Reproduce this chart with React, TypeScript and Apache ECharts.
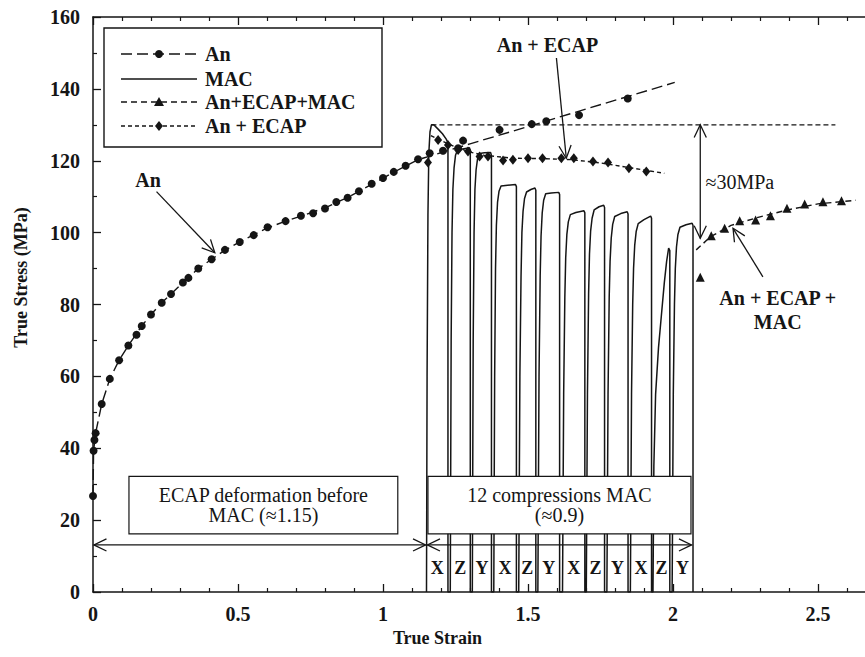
import React, { useEffect, useRef } from 'react';
import * as echarts from 'echarts';

// ---------- data (true strain, true stress MPa) ----------
const anPoints: number[][] = [
  [0, 26.7], [0.002, 39.3], [0.005, 42.3], [0.009, 44.2], [0.03, 52.3], [0.058, 59.3], [0.09, 64.5],
  [0.122, 68.6], [0.15, 71.6], [0.168, 74], [0.2, 77.2], [0.237, 80.5], [0.269, 82.9], [0.31, 86.1],
  [0.329, 87.4], [0.363, 90], [0.409, 92.6], [0.455, 95.2], [0.506, 97.4], [0.554, 99.3], [0.602, 101.5],
  [0.664, 103.2], [0.717, 104.7], [0.759, 105.4], [0.8, 106.7], [0.839, 108.5], [0.878, 109.7],
  [0.917, 111.5], [0.961, 113.6], [1.0, 115.2], [1.037, 116.9], [1.078, 118.6], [1.121, 120.4],
  [1.161, 122.1], [1.207, 122.8], [1.259, 123.5], [1.276, 125.6], [1.402, 128.6], [1.513, 130.2],
  [1.563, 131], [1.676, 132.7], [1.844, 137.3],
];
const anTrend: number[][] = [
  [0, 26.7], [0.002, 39.3], [0.009, 44.2], [0.03, 52.3], [0.058, 59.3], [0.09, 64.5], [0.122, 68.6],
  [0.168, 74], [0.2, 77.2], [0.237, 80.5], [0.269, 82.9], [0.31, 86.1], [0.363, 90], [0.409, 92.6],
  [0.455, 95.1], [0.506, 97.4], [0.554, 99.4], [0.602, 101.3], [0.664, 103.2], [0.717, 104.6],
  [0.8, 106.9], [0.878, 109.8], [0.961, 113.4], [1.037, 116.8], [1.121, 120.3], [1.3, 124.7],
  [1.5, 129.5], [1.7, 134.4], [2.006, 141.8],
];
const macCurve: number[][] = [
  [1.150, 0], [1.152, 60], [1.155, 105], [1.158, 122], [1.162, 128], [1.167, 130], [1.175, 130], [1.19, 128.8], [1.205, 127.5], [1.218, 126], [1.224, 125], [1.224, 0],
  [1.232, 0], [1.235, 70], [1.238, 100], [1.241, 112], [1.245, 118], [1.250, 121.5], [1.257, 123], [1.275, 123.3], [1.298, 123.6], [1.301, 123], [1.301, 0],
  [1.308, 0], [1.311, 70], [1.314, 100], [1.317, 112], [1.321, 117.5], [1.326, 120.5], [1.333, 122], [1.35, 122.2], [1.371, 122.3], [1.374, 121.5], [1.374, 0],
  [1.382, 0], [1.385, 60], [1.388, 90], [1.391, 102], [1.395, 108.5], [1.400, 111.5], [1.407, 113], [1.43, 113.2], [1.457, 113.4], [1.46, 112.8], [1.46, 0],
  [1.468, 0], [1.472, 60], [1.476, 88], [1.479, 100], [1.483, 106], [1.488, 109.5], [1.495, 111.3], [1.51, 112], [1.524, 112.4], [1.527, 111.8], [1.527, 0],
  [1.534, 0], [1.538, 60], [1.542, 88], [1.545, 99], [1.549, 105.5], [1.554, 109], [1.561, 110.8], [1.58, 111], [1.606, 111.2], [1.609, 110.6], [1.609, 0],
  [1.619, 0], [1.623, 55], [1.627, 82], [1.630, 93], [1.634, 99.5], [1.639, 103], [1.646, 105], [1.665, 105.6], [1.693, 106.1], [1.696, 105.5], [1.696, 0],
  [1.701, 0], [1.705, 55], [1.709, 83], [1.712, 94], [1.716, 100.5], [1.721, 104], [1.728, 106.3], [1.745, 107.2], [1.761, 107.6], [1.764, 107], [1.764, 0],
  [1.772, 0], [1.776, 55], [1.780, 82], [1.783, 92], [1.787, 98.5], [1.792, 102.3], [1.799, 104.5], [1.82, 105.3], [1.842, 105.8], [1.845, 105.2], [1.845, 0],
  [1.853, 0], [1.857, 55], [1.861, 80], [1.864, 90], [1.868, 96.5], [1.873, 100.3], [1.880, 102.5], [1.9, 103.6], [1.923, 104.6], [1.926, 104], [1.926, 0],
  [1.931, 0], [1.934, 35], [1.940, 55], [1.950, 68], [1.960, 77], [1.970, 86], [1.978, 92], [1.985, 95.7], [1.989, 95], [1.989, 0],
  [1.997, 0], [2.001, 55], [2.005, 80], [2.008, 90], [2.012, 96], [2.017, 99.5], [2.024, 101.5], [2.045, 102.2], [2.066, 102.6], [2.069, 102], [2.069, 0],
];
const ecapPoints: number[][] = [
  [1.155, 119.5], [1.19, 125.8], [1.224, 124.4], [1.259, 123], [1.293, 122.6], [1.333, 121.2], [1.362, 121.2],
  [1.414, 120.1], [1.448, 120.3], [1.5, 120.7], [1.55, 120.7], [1.615, 120.7], [1.658, 120.7], [1.724, 119.8],
  [1.776, 119.5], [1.848, 117.9], [1.908, 117],
];
const ecapTrend: number[][] = [
  [1.165, 127], [1.2, 125.6], [1.25, 123.8], [1.3, 122.4], [1.35, 121.5], [1.45, 120.7], [1.55, 120.6],
  [1.65, 120.3], [1.75, 119.4], [1.85, 118.1], [1.97, 116.5],
];
const amacPoints: number[][] = [
  [2.094, 87.6], [2.132, 99.1], [2.178, 101.2], [2.23, 103.3], [2.285, 103.5], [2.336, 104.7],
  [2.393, 106.8], [2.454, 108], [2.517, 108.6], [2.581, 108.9],
];
const amacTrend: number[][] = [
  [2.08, 95.2], [2.13, 98.9], [2.2, 102], [2.3, 104.4], [2.4, 106.4], [2.5, 108], [2.63, 109],
];
// compression cells (strain ranges) and their axes
const macCells: number[][] = [
  [1.150, 1.224], [1.232, 1.301], [1.308, 1.374], [1.382, 1.46], [1.468, 1.527], [1.534, 1.609],
  [1.619, 1.696], [1.701, 1.764], [1.772, 1.845], [1.853, 1.926], [1.931, 1.989], [1.997, 2.069],
];
const macAxes = ['X', 'Z', 'Y', 'X', 'Z', 'Y', 'X', 'Z', 'Y', 'X', 'Z', 'Y'];
const legendNames = ['An', 'MAC', 'An+ECAP+MAC', 'An + ECAP'];

const FONT = '"Liberation Serif", "Times New Roman", serif';
const INK = '#151515';

export default function App() {
  const ref = useRef<HTMLDivElement>(null);
  useEffect(() => {
    const chart = echarts.init(ref.current!, null, { renderer: 'svg' });
    const labelStyle = { color: INK, fontFamily: FONT, fontWeight: 'bold' as const, fontSize: 20 };
    const xBase = {
      type: 'value' as const, min: 0, max: 2.7, interval: 0.5,
      axisLine: { onZero: false, lineStyle: { color: INK, width: 1.5 } },
      axisTick: { inside: true, length: 8, lineStyle: { color: INK, width: 1.3 } },
      minorTick: { show: true, splitNumber: 5, length: 4, lineStyle: { color: INK, width: 1.2 } },
      splitLine: { show: false },
    };
    const yBase = {
      type: 'value' as const, min: 0, max: 160, interval: 20,
      axisLine: { onZero: false, lineStyle: { color: INK, width: 1.5 } },
      axisTick: { inside: true, length: 8, lineStyle: { color: INK, width: 1.3 } },
      minorTick: { show: true, splitNumber: 2, length: 4, lineStyle: { color: INK, width: 1.2 } },
      splitLine: { show: false },
    };
    const pt = { color: INK, opacity: 1 };
    chart.setOption({
      animation: false,
      backgroundColor: '#ffffff',
      textStyle: { fontFamily: FONT },
      grid: { left: 93, top: 17, right: 0, bottom: 65, containLabel: false },
      xAxis: [
        {
          ...xBase, position: 'bottom',
          axisLabel: { ...labelStyle, margin: 12, showMaxLabel: false },
          name: 'True Strain', nameLocation: 'middle', nameGap: 36,
          nameTextStyle: { ...labelStyle, fontSize: 18, padding: [0, 94, 0, 0] },
        },
        { ...xBase, position: 'top', axisLabel: { show: false } },
      ],
      yAxis: [
        {
          ...yBase, position: 'left',
          axisLabel: { ...labelStyle, margin: 13 },
          name: 'True Stress (MPa)', nameLocation: 'middle', nameGap: 63,
          nameTextStyle: { ...labelStyle, fontSize: 18, padding: [0, 0, 0, 54] },
        },
        { ...yBase, position: 'right', axisLabel: { show: false } },
      ],
      series: [
        { name: 'An', type: 'line', data: anTrend, symbol: 'none', lineStyle: { color: INK, width: 1.4, type: [11, 5] }, z: 3 },
        { name: 'An points', type: 'scatter', data: anPoints, symbol: 'circle', symbolSize: 8, itemStyle: pt, z: 4 },
        { name: 'MAC', type: 'line', data: macCurve, symbol: 'none', lineStyle: { color: INK, width: 1.5 }, z: 2 },
        { name: 'An + ECAP', type: 'line', data: ecapTrend, symbol: 'none', lineStyle: { color: INK, width: 1.4, type: [4, 3] }, z: 3 },
        { name: 'An + ECAP points', type: 'scatter', data: ecapPoints, symbol: 'diamond', symbolSize: [8, 10], itemStyle: pt, z: 4 },
        { name: 'An+ECAP+MAC', type: 'line', data: amacTrend, symbol: 'none', lineStyle: { color: INK, width: 1.4, type: [6, 4] }, z: 3 },
        { name: 'An+ECAP+MAC points', type: 'scatter', data: amacPoints, symbol: 'triangle', symbolSize: 9, itemStyle: pt, z: 4 },
      ],
    });

    const P = (x: number, y: number) => chart.convertToPixel({ seriesIndex: 0 }, [x, y]) as number[];
    const stroke = { stroke: INK, lineWidth: 1.3, fill: null as any };
    const head = (tip: number[], from: number[], len = 14, ang = 0.45) => {
      const dx = from[0] - tip[0], dy = from[1] - tip[1];
      const d = Math.hypot(dx, dy);
      const ux = dx / d, uy = dy / d;
      const r = (a: number) => [tip[0] + len * (ux * Math.cos(a) - uy * Math.sin(a)), tip[1] + len * (ux * Math.sin(a) + uy * Math.cos(a))];
      return { type: 'polyline', shape: { points: [r(ang), tip, r(-ang)] }, style: { ...stroke }, silent: true, z: 50 };
    };
    const arrow = (a: number[], b: number[], both = false, len = 14) => {
      const els: any[] = [{ type: 'line', shape: { x1: a[0], y1: a[1], x2: b[0], y2: b[1] }, style: { ...stroke }, silent: true, z: 50 }];
      els.push(head(b, a, len));
      if (both) els.push(head(a, b, len));
      return els;
    };
    const text = (t: string, p: number[], opts: any = {}) => ({
      type: 'text', x: p[0], y: p[1], silent: true, z: 60,
      style: {
        text: t, fill: INK, font: `${opts.bold === false ? 'normal' : 'bold'} ${opts.size || 20}px ${FONT}`,
        align: opts.align || 'center', verticalAlign: 'middle', lineHeight: opts.lineHeight,
      },
    });
    const g: any[] = [];

    // legend
    g.push({ type: 'rect', shape: { x: 104, y: 28, width: 278, height: 119 }, style: { fill: '#fff', stroke: INK, lineWidth: 1.4 }, z: 70 });
    const rows = [54, 79, 102, 126];
    const dashes = [[11, 5], null, [6, 4], [4, 3]];
    rows.forEach((ry, i) => {
      g.push({ type: 'line', shape: { x1: 121, y1: ry, x2: 197, y2: ry }, style: { stroke: INK, lineWidth: 1.5, lineDash: dashes[i] || undefined }, z: 71 });
      g.push({ ...text(legendNames[i], [205, ry], { align: 'left' }), z: 72 });
    });
    g.push({ type: 'circle', shape: { cx: 159, cy: rows[0], r: 4 }, style: { fill: INK }, z: 72 });
    g.push({ type: 'polygon', shape: { points: [[159, rows[2] - 5], [164, rows[2] + 4], [154, rows[2] + 4]] }, style: { fill: INK }, z: 72 });
    g.push({ type: 'polygon', shape: { points: [[159, rows[3] - 5], [163, rows[3]], [159, rows[3] + 5], [155, rows[3]]] }, style: { fill: INK }, z: 72 });

    // An annotation
    g.push(text('An', P(0.19, 114.6)));
    g.push(...arrow(P(0.219, 111.4), P(0.42, 94.4)));
    // An + ECAP annotation
    g.push(text('An + ECAP', P(1.567, 152.3)));
    g.push(...arrow(P(1.598, 148.6), P(1.632, 120.7)));
    // 30 MPa gap
    const h1 = P(1.167, 130), h2 = P(2.56, 130);
    g.push({ type: 'line', shape: { x1: h1[0], y1: h1[1], x2: h2[0], y2: h2[1] }, style: { stroke: INK, lineWidth: 1.2, lineDash: [5, 3] }, z: 40 });
    g.push(...arrow(P(2.094, 130), P(2.094, 98.4), true));
    g.push(text('\u224830MPa', P(2.112, 114.1), { bold: false, align: 'left' }));
    // An + ECAP + MAC annotation
    g.push(text('An + ECAP +\nMAC', P(2.361, 78.35), { lineHeight: 24 }));
    g.push(...arrow(P(2.31, 87.7), P(2.207, 101.2)));

    // bottom boxes
    const box = (x0: number, x1: number, label: string) => {
      const a = P(x0, 32.2), b = P(x1, 16.2);
      g.push({ type: 'rect', shape: { x: a[0], y: a[1], width: b[0] - a[0], height: b[1] - a[1] }, style: { fill: '#fff', stroke: INK, lineWidth: 1.2 }, z: 45 });
      g.push(text(label, P((x0 + x1) / 2, 24.1), { bold: false, lineHeight: 20 }));
    };
    box(0.124, 1.051, 'ECAP deformation before\nMAC (\u22481.15)');
    box(1.155, 2.062, '12 compressions MAC\n(\u22480.9)');
    g.push(...arrow(P(0.003, 13.1), P(1.147, 13.1), true));
    g.push(...arrow(P(1.153, 13.1), P(2.064, 13.1), true));
    macCells.forEach((c, i) => g.push(text(macAxes[i], P((c[0] + c[1]) / 2, 6.6), { size: 18 })));

    chart.setOption({ graphic: g });
    return () => chart.dispose();
  }, []);
  return <div ref={ref} style={{ position: 'fixed', left: 0, top: 0, width: 876, height: 657, background: '#fff' }} />;
}
